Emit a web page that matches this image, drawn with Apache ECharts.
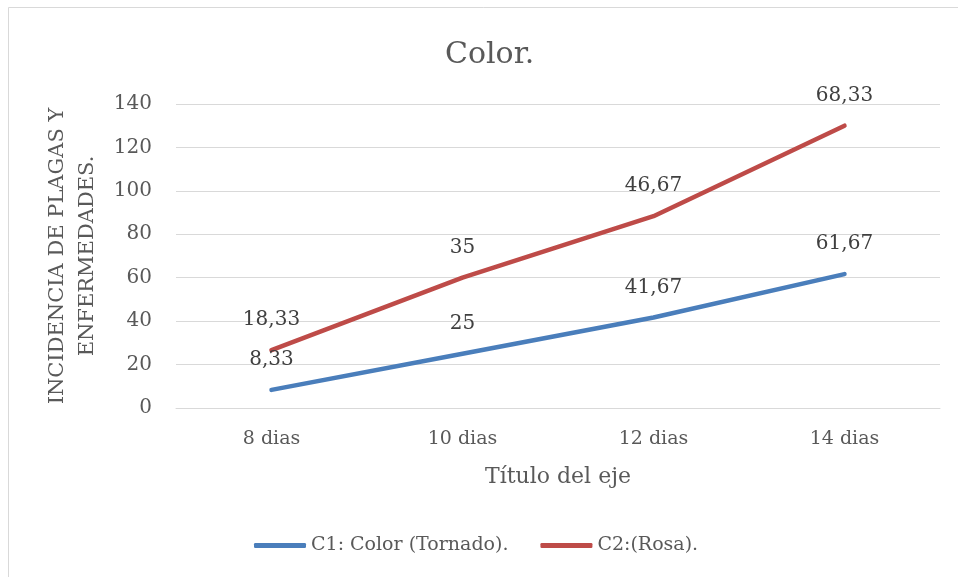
<!DOCTYPE html>
<html>
<head>
<meta charset="utf-8">
<script src="https://cdn.jsdelivr.net/npm/echarts@6/dist/echarts.min.js"></script>
<style>
  html, body { margin: 0; padding: 0; background: #fff; }
  #chart { width: 958px; height: 577px; }
</style>
</head>
<body>
<div id="chart"></div>
<script>
// Días de observación
const categories = ['8 dias', '10 dias', '12 dias', '14 dias'];
// Incidencia por tratamiento (series apiladas)
const c1Values = [8.33, 25, 41.67, 61.67];
const c2Values = [18.33, 35, 46.67, 68.33];
const yTicks = { min: 0, max: 140, interval: 20 };

const FONT = '"DejaVu Serif", "Liberation Serif", serif';
const TEXT = '#595959';

const labelFmt = p => String(p.value).replace('.', ',');

const chart = echarts.init(document.getElementById('chart'));
chart.setOption({
  animation: false,
  backgroundColor: '#fff',
  textStyle: { fontFamily: FONT },
  title: {
    text: 'Color.',
    left: 440,
    top: 35,
    textStyle: { fontFamily: FONT, fontSize: 30, fontWeight: 'normal', color: TEXT }
  },
  legend: {
    bottom: 17,
    left: 249,
    itemWidth: 52,
    itemHeight: 5,
    itemGap: 32,
    itemTextGap: 4,
    icon: 'roundRect',
    textStyle: { fontFamily: FONT, fontSize: 19, color: TEXT },
    data: ['C1: Color (Tornado).', 'C2:(Rosa).']
  },
  grid: { left: 176, right: 18, top: 104, bottom: 169 },
  xAxis: {
    type: 'category',
    data: categories,
    boundaryGap: true,
    name: 'Título del eje',
    nameLocation: 'middle',
    nameGap: 58,
    nameTextStyle: { fontFamily: FONT, fontSize: 22, color: TEXT },
    axisLine: { show: true, lineStyle: { color: '#d9d9d9', width: 1 } },
    axisTick: { show: false },
    axisLabel: { fontFamily: FONT, fontSize: 19, color: TEXT, margin: 22 }
  },
  yAxis: {
    type: 'value',
    min: yTicks.min,
    max: yTicks.max,
    interval: yTicks.interval,
    name: 'INCIDENCIA DE PLAGAS Y\nENFERMEDADES.',
    nameLocation: 'middle',
    nameGap: 73,
    nameRotate: 90,
    nameTextStyle: { fontFamily: FONT, fontSize: 21, color: TEXT, lineHeight: 30 },
    axisLine: { show: false },
    axisTick: { show: false },
    splitLine: { lineStyle: { color: '#d9d9d9', width: 1 } },
    axisLabel: { fontFamily: FONT, fontSize: 20, color: TEXT, margin: 24 }
  },
  series: [
    {
      name: 'C1: Color (Tornado).',
      type: 'line',
      stack: 'total',
      data: c1Values,
      symbol: 'circle',
      symbolSize: 0.01,
      showSymbol: true,
      lineStyle: { color: '#4a7ebb', width: 4.5, cap: 'round' },
      itemStyle: { color: '#4a7ebb' },
      label: {
        show: true, position: 'top', distance: 20,
        formatter: labelFmt,
        fontFamily: FONT, fontSize: 20, color: '#404040'
      }
    },
    {
      name: 'C2:(Rosa).',
      type: 'line',
      stack: 'total',
      data: c2Values,
      symbol: 'circle',
      symbolSize: 0.01,
      showSymbol: true,
      lineStyle: { color: '#be4b48', width: 4.5, cap: 'round' },
      itemStyle: { color: '#be4b48' },
      label: {
        show: true, position: 'top', distance: 20,
        formatter: labelFmt,
        fontFamily: FONT, fontSize: 20, color: '#404040'
      }
    }
  ],
  graphic: [
    {
      type: 'rect',
      shape: { x: 8.5, y: 7.5, width: 1200, height: 1200 },
      style: { fill: null, stroke: '#d9d9d9', lineWidth: 1 },
      silent: true,
      z: -1
    }
  ]
});
</script>
</body>
</html>
